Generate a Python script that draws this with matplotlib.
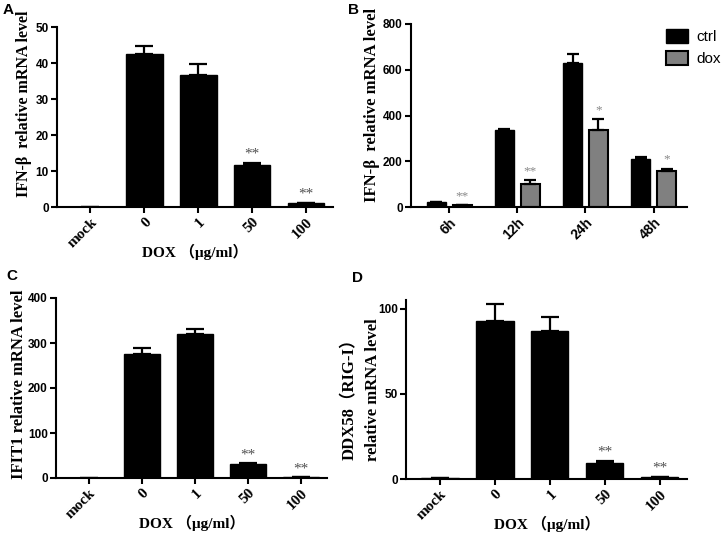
import matplotlib
matplotlib.use("Agg")
import matplotlib.pyplot as plt
import numpy as np

# panel A, C, D categories
dose_labels = ["mock", "0", "1", "50", "100"]

ifnb_mean = [0.0, 42.4, 36.7, 11.7, 1.1]
ifnb_err = [0.0, 2.2, 2.9, 0.6, 0.1]
ifnb_stars = ["", "", "", "**", "**"]

# panel B
time_labels = ["6h", "12h", "24h", "48h"]
ctrl_mean = [21, 336, 628, 212]
ctrl_err = [1, 7, 42, 5]
dox_mean = [7, 100, 336, 156]
dox_err = [1, 16, 48, 12]
dox_stars = ["**", "**", "*", "*"]

ifit1_mean = [1.0, 276, 321, 31, 2]
ifit1_err = [0.0, 13, 11, 2, 0.3]
ifit1_stars = ["", "", "", "**", "**"]

ddx58_mean = [0.4, 92.5, 86.8, 9.4, 1.1]
ddx58_err = [0.0, 10.0, 8.3, 1.4, 0.2]
ddx58_stars = ["", "", "", "**", "**"]

serif = ["Liberation Serif", "Noto Sans CJK SC"]
sans = "Liberation Sans"

fig = plt.figure(figsize=(7.25, 5.36), dpi=100)
W, H = 725.0, 536.0


def add_ax(left, top, right, bottom):
    return fig.add_axes([left / W, 1 - bottom / H, (right - left) / W, (bottom - top) / H])


def style(ax):
    for s in ["top", "right"]:
        ax.spines[s].set_visible(False)
    for s in ["left", "bottom"]:
        ax.spines[s].set_linewidth(1.5)
    ax.tick_params(width=1.5, length=4, pad=2)
    for t in ax.get_yticklabels():
        t.set_fontfamily(sans)
        t.set_fontweight("bold")
        t.set_fontsize(8.5)


def put_ylabel(ax, text, xfrac, yfrac, size):
    ax.set_ylabel(text, family=serif, fontweight="bold", fontsize=size)
    ax.yaxis.label.set_va("center")
    ax.yaxis.set_label_coords(xfrac, yfrac)


def dose_panel(ax, mean, err, stars, ylim, yticks, star_gap):
    x = np.arange(len(dose_labels))
    ax.bar(x, mean, width=0.68, color="black", edgecolor="black", linewidth=1)
    ax.errorbar(x, mean, yerr=[np.zeros(len(err)), err], fmt="none",
                ecolor="black", elinewidth=1.6, capsize=6.5, capthick=1.6)
    for xi, m, e, s in zip(x, mean, err, stars):
        if s:
            ax.text(xi, m + e + star_gap, s, ha="center", va="bottom",
                    fontsize=11, color="#505050", family=serif)
    ax.set_xlim(-0.62, 4.5)
    ax.set_ylim(*ylim)
    ax.set_yticks(yticks)
    ax.set_xticks(x)
    ax.set_xticklabels(dose_labels, rotation=45, ha="right", rotation_mode="anchor",
                       family=serif, fontweight="bold", fontsize=11)
    ax.set_xlabel("DOX （μg/ml）", family=serif, fontweight="bold", fontsize=11, labelpad=-4)
    style(ax)


# A
axA = add_ax(57, 27, 333, 207)
dose_panel(axA, ifnb_mean, ifnb_err, ifnb_stars, (0, 50), [0, 10, 20, 30, 40, 50], 0.5)
put_ylabel(axA, "IFN-β  relative mRNA level", -0.118, 0.575, 11.5)

# B
axB = add_ax(411, 24, 687, 207)
xb = np.arange(len(time_labels))
off = 0.19
w = 0.28
axB.bar(xb - off, ctrl_mean, width=w, color="black", edgecolor="black", linewidth=1, label="ctrl")
axB.bar(xb + off, dox_mean, width=w, color="#808080", edgecolor="black", linewidth=1.5, label="dox")
axB.errorbar(xb - off, ctrl_mean, yerr=[np.zeros(4), ctrl_err], fmt="none",
             ecolor="black", elinewidth=1.6, capsize=4.5, capthick=1.6)
axB.errorbar(xb + off, dox_mean, yerr=[np.zeros(4), dox_err], fmt="none",
             ecolor="black", elinewidth=1.6, capsize=4.5, capthick=1.6)
for xi, m, e, s in zip(xb + off, dox_mean, dox_err, dox_stars):
    axB.text(xi, m + e + 14, s, ha="center", va="bottom", fontsize=9.5,
             color="#888888", family=serif)
axB.set_xlim(-0.56, 3.49)
axB.set_ylim(0, 800)
axB.set_yticks([0, 200, 400, 600, 800])
axB.set_xticks(xb)
axB.set_xticklabels(time_labels, rotation=45, ha="right", rotation_mode="anchor",
                    family=sans, fontweight="bold", fontsize=10)
style(axB)
put_ylabel(axB, "IFN-β  relative mRNA level", -0.14, 0.56, 12)
axB.legend(loc="upper left", bbox_to_anchor=(0.9, 1.005), frameon=False,
           prop={"family": sans, "size": 11}, handlelength=1.5, handleheight=1.0,
           handletextpad=0.5, borderaxespad=0, labelspacing=0.45)

# C
axC = add_ax(56, 298, 327, 478)
dose_panel(axC, ifit1_mean, ifit1_err, ifit1_stars, (0, 400), [0, 100, 200, 300, 400], 4)
put_ylabel(axC, "IFIT1 relative mRNA level", -0.135, 0.52, 12)

# D
axD = add_ax(406, 300, 687, 479)
dose_panel(axD, ddx58_mean, ddx58_err, ddx58_stars, (0, 105), [0, 50, 100], 1.2)
put_ylabel(axD, "relative mRNA level", (373 - 406) / 281, 0.5, 12)
fig.text(350 / W, 1 - 395 / H, "DDX58（RIG-I）", rotation=90, ha="center", va="center",
         family=serif, fontweight="bold", fontsize=12)

# panel letters
for lab, px, py in [("A", 3, 10), ("B", 348, 10), ("C", 6, 276), ("D", 352, 278)]:
    fig.text(px / W, 1 - py / H, lab, family=sans, fontweight="bold", fontsize=11,
             ha="left", va="center")

fig.savefig("out.png", dpi=100)
